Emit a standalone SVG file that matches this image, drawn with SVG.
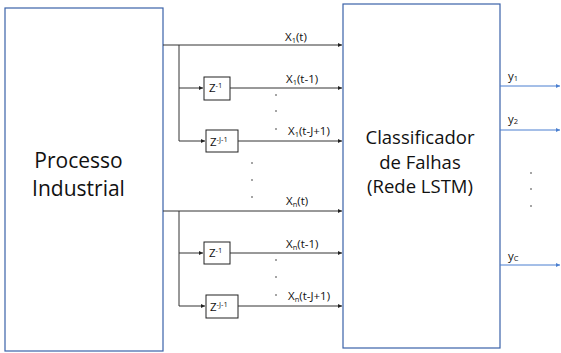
<svg xmlns="http://www.w3.org/2000/svg" width="561" height="353" viewBox="0 0 561 353">
<defs>
<style>
.box{fill:#fff;stroke:#3A62A8;stroke-width:1.2}
.zb{fill:#fff;stroke:#222;stroke-width:1}
.ln{fill:none;stroke:#333;stroke-width:1}
.out{fill:none;stroke:#4A7FD0;stroke-width:1}
.big{font-family:"Open Sans","Liberation Sans",sans-serif;fill:#111;text-anchor:middle}
.lbl{font-family:"Open Sans","Liberation Sans",sans-serif;font-size:11.5px;fill:#111}
.sub{font-size:7.5px}
.dot{fill:#333}
</style>
<marker id="ab" viewBox="0 0 6 6" refX="6" refY="3" markerWidth="4" markerHeight="4" orient="auto" markerUnits="userSpaceOnUse">
<path d="M0,0 L6,3 L0,6 z" fill="#222"/>
</marker>
<marker id="abb" viewBox="0 0 6 6" refX="6" refY="3" markerWidth="4" markerHeight="4" orient="auto" markerUnits="userSpaceOnUse">
<path d="M0,0 L6,3 L0,6 z" fill="#4A7FD0"/>
</marker>
</defs>
<rect width="561" height="353" fill="#fff"/>

<g id="processo">
<rect class="box" x="5" y="8" width="158" height="343"/>
<text class="big" font-size="21" x="78.5" y="168">Processo</text>
<text class="big" font-size="21" x="78.5" y="196">Industrial</text>
</g>

<g id="classificador">
<rect class="box" x="343" y="4" width="157" height="344"/>
<text class="big" font-size="18.5" x="420" y="144">Classificador</text>
<text class="big" font-size="18.5" x="420" y="169">de Falhas</text>
<text class="big" font-size="18.5" x="420" y="193">(Rede LSTM)</text>
</g>

<g id="z1a"><rect class="zb" x="204" y="77" width="26" height="23"/><text class="lbl" x="209" y="92">Z<tspan class="sub" dy="-4">-1</tspan></text></g>
<g id="zja"><rect class="zb" x="206" y="130" width="32" height="22"/><text class="lbl" x="210" y="145.5">Z<tspan class="sub" dy="-4">-J-1</tspan></text></g>
<g id="z1b"><rect class="zb" x="204" y="242" width="26" height="22"/><text class="lbl" x="209" y="257">Z<tspan class="sub" dy="-4">-1</tspan></text></g>
<g id="zjb"><rect class="zb" x="206" y="295" width="32" height="23"/><text class="lbl" x="210" y="311">Z<tspan class="sub" dy="-4">-J-1</tspan></text></g>

<g id="connectors">
<path class="ln" d="M163,45 H342" marker-end="url(#ab)"/>
<path class="ln" d="M179,45 V141 H205" marker-end="url(#ab)"/>
<path class="ln" d="M179,88 H203" marker-end="url(#ab)"/>
<path class="ln" d="M230,88 H342" marker-end="url(#ab)"/>
<path class="ln" d="M238,141 H342" marker-end="url(#ab)"/>

<path class="ln" d="M163,211 H342" marker-end="url(#ab)"/>
<path class="ln" d="M179,211 V306 H205" marker-end="url(#ab)"/>
<path class="ln" d="M179,253 H203" marker-end="url(#ab)"/>
<path class="ln" d="M230,253 H342" marker-end="url(#ab)"/>
<path class="ln" d="M238,306 H342" marker-end="url(#ab)"/>

<path class="out" d="M500,86 H560" marker-end="url(#abb)"/>
<path class="out" d="M500,130 H560" marker-end="url(#abb)"/>
<path class="out" d="M500,265 H560" marker-end="url(#abb)"/>
</g>

<g id="labels">
<text class="lbl" x="285" y="41">X<tspan class="sub" dy="2">1</tspan><tspan dy="-2">(t)</tspan></text>
<text class="lbl" x="286" y="83">X<tspan class="sub" dy="2">1</tspan><tspan dy="-2">(t-1)</tspan></text>
<text class="lbl" x="288" y="135">X<tspan class="sub" dy="2">1</tspan><tspan dy="-2">(t-J+1)</tspan></text>
<text class="lbl" x="286" y="205">X<tspan class="sub" dy="2">n</tspan><tspan dy="-2">(t)</tspan></text>
<text class="lbl" x="286" y="248">X<tspan class="sub" dy="2">n</tspan><tspan dy="-2">(t-1)</tspan></text>
<text class="lbl" x="288" y="300">X<tspan class="sub" dy="2">n</tspan><tspan dy="-2">(t-J+1)</tspan></text>
<text class="lbl" x="508" y="80">y<tspan class="sub" dy="1">1</tspan></text>
<text class="lbl" x="508" y="123">y<tspan class="sub" dy="1">2</tspan></text>
<text class="lbl" x="508" y="260">y<tspan class="sub" dy="1">C</tspan></text>
</g>

<g id="dots">
<circle class="dot" cx="276" cy="95" r="0.8"/>
<circle class="dot" cx="276" cy="111" r="0.8"/>
<circle class="dot" cx="276" cy="129" r="0.8"/>
<circle class="dot" cx="252" cy="163" r="0.8"/>
<circle class="dot" cx="252" cy="180" r="0.8"/>
<circle class="dot" cx="252" cy="197" r="0.8"/>
<circle class="dot" cx="276" cy="260" r="0.8"/>
<circle class="dot" cx="276" cy="277" r="0.8"/>
<circle class="dot" cx="276" cy="295" r="0.8"/>
<circle class="dot" cx="531" cy="173" r="0.8"/>
<circle class="dot" cx="531" cy="189" r="0.8"/>
<circle class="dot" cx="531" cy="206" r="0.8"/>
</g>
</svg>
